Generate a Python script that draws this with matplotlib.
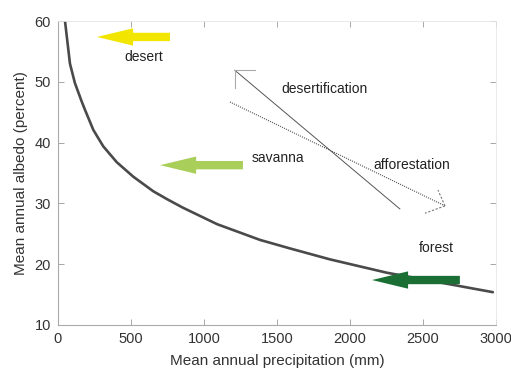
import numpy as np
import matplotlib.pyplot as plt

plt.rcParams['font.family'] = ['Liberation Sans', 'DejaVu Sans']

# Albedo curve
precip = [48, 82, 116, 162, 185, 242, 310, 402, 516, 653, 755, 856, 1089, 1384, 1589, 1863, 2253, 2979]
albedo = [60, 53.0, 49.8, 46.8, 45.4, 42.1, 39.4, 36.8, 34.4, 32.0, 30.6, 29.3, 26.6, 24.0, 22.6, 20.8, 18.6, 15.4]

# Biome arrows: (tail x, tip x, y, colour)
biomes = ['desert', 'savanna', 'forest']
arrow_tail = [767, 1267, 2753]
arrow_tip = [267, 699, 2151]
arrow_y = [57.4, 36.3, 17.4]
arrow_colors = ['#f2e600', '#a9cf5a', '#1b6f35']
label_pos = [(589, 54.1), (1507, 37.5), (2589, 22.7)]

# Transition lines
desert_line = ([2342, 1212], [29.1, 51.9])
afforest_line = ([1178, 2651], [46.7, 29.6])

fig = plt.figure(figsize=(5.11, 3.71), dpi=100)
ax = fig.add_axes([0.1135, 0.124, 0.857, 0.819])

ax.plot(precip, albedo, color='#4a4a4a', lw=1.9, solid_capstyle='round', solid_joinstyle='round')

for tail, tip, y, c in zip(arrow_tail, arrow_tip, arrow_y, arrow_colors):
    ax.annotate('', xy=(tip, y), xytext=(tail, y),
                arrowprops=dict(arrowstyle='simple,head_length=2.6,head_width=1.25,tail_width=0.6',
                                color=c, lw=0, shrinkA=0, shrinkB=0))

for name, (x, y) in zip(biomes, label_pos):
    ax.text(x, y, name, ha='center', va='center', fontsize=10, color='#222222')

# desertification: solid line with open arrowhead at top-left
ax.plot(desert_line[0], desert_line[1], color='#555555', lw=0.7)
ax.plot([1212, 1349], [51.9, 51.9], color='#aaaaaa', lw=0.8)
ax.plot([1212, 1212], [51.9, 49.0], color='#aaaaaa', lw=0.8)
ax.text(1829, 48.8, 'desertification', ha='center', va='center', fontsize=10, color='#222222')

# afforestation: dotted line with dashed open arrowhead
ax.plot(afforest_line[0], afforest_line[1], color='#555555', lw=0.8, ls=(0, (1, 1)))
ax.plot([2651, 2603], [29.6, 32.2], color='#777777', lw=0.8, ls=(0, (2, 1.5)))
ax.plot([2651, 2514], [29.6, 28.4], color='#777777', lw=0.8, ls=(0, (2, 1.5)))
ax.text(2425, 36.3, 'afforestation', ha='center', va='center', fontsize=10, color='#222222')

ax.set_xlim(0, 3000)
ax.set_ylim(10, 60)
ax.set_xticks(np.arange(0, 3001, 500))
ax.set_yticks(np.arange(10, 61, 10))
ax.tick_params(direction='in', length=4, width=0.6, color='#999999', pad=5,
               labelsize=10.5, labelcolor='#333333', top=True, right=True)
for s in ['left', 'bottom']:
    ax.spines[s].set_color('#aaaaaa')
    ax.spines[s].set_linewidth(0.8)
for s in ['top', 'right']:
    ax.spines[s].set_color('#e6e6e6')
    ax.spines[s].set_linewidth(0.6)

ax.set_xlabel('Mean annual precipitation (mm)', fontsize=11, color='#333333', labelpad=6)
ax.set_ylabel('Mean annual albedo (percent)', fontsize=11, color='#333333', labelpad=5)

fig.savefig('out.png', dpi=100)
